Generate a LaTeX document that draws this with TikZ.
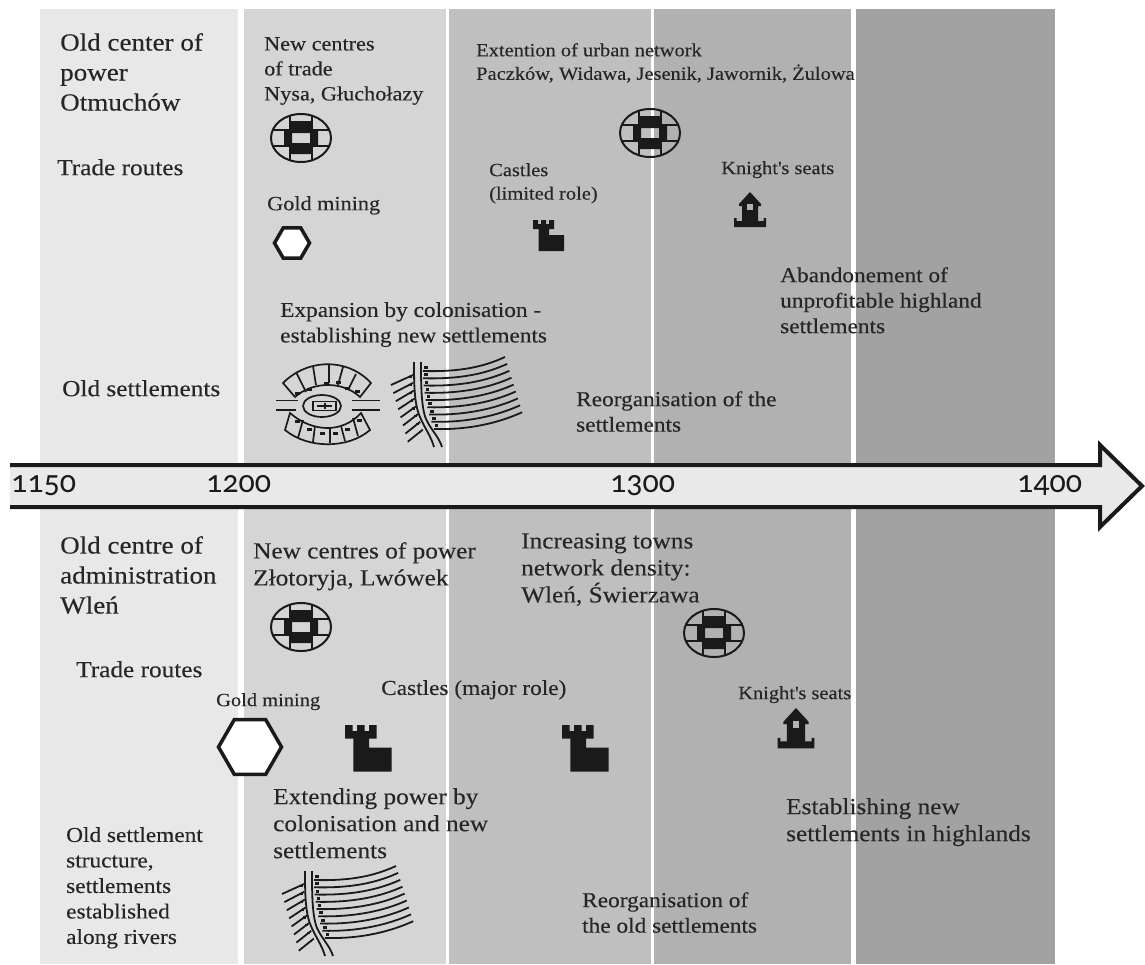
\documentclass[tikz,border=0pt]{standalone}
\usepackage{fontspec}
\setmainfont[FakeStretch=1.1,FakeBold=0.2]{Liberation Serif}
\newfontfamily\yearfont[Numbers=OldStyle]{Carlito}
\usetikzlibrary{shapes.geometric}
\definecolor{tlInk}{HTML}{1a1a1a}
\definecolor{tlText}{HTML}{262626}
\definecolor{tlBandA}{HTML}{e8e8e8}
\definecolor{tlBandB}{HTML}{d5d5d5}
\definecolor{tlBandC}{HTML}{bfbfbf}
\definecolor{tlBandD}{HTML}{b1b1b1}
\definecolor{tlBandE}{HTML}{a2a2a2}
\definecolor{tlAxis}{HTML}{e9e9e9}
\tikzset{
  lblL/.style={anchor=north west, align=left, text=tlText, inner sep=0pt, yshift=-6pt,
              font=\fontsize{24.6}{30}\selectfont},
  lblM/.style={anchor=north west, align=left, text=tlText, inner sep=0pt, yshift=-4pt,
              font=\fontsize{23}{27}\selectfont},
  lblR/.style={anchor=north west, align=left, text=tlText, inner sep=0pt, yshift=-4pt,
              font=\fontsize{21.2}{25.5}\selectfont},
  lblS/.style={anchor=north west, align=left, text=tlText, inner sep=0pt, yshift=-4pt,
              font=\fontsize{20.2}{25}\selectfont},
  lblT/.style={anchor=north west, align=left, text=tlText, inner sep=0pt, yshift=-4pt,
              font=\fontsize{18.6}{23.5}\selectfont},
  year/.style={anchor=base west, text=tlInk, inner sep=0pt, font=\yearfont\fontsize{32}{32}\selectfont},
  mine/.style={regular polygon, regular polygon sides=6,
              draw=tlInk, fill=white, line width=3.5pt, inner sep=0pt},
  % town plan crest
  pics/crest/.style={code={
    \fill[tlInk] (-11,-17) rectangle (11,-5) (-11,5) rectangle (11,16)
                 (-17,-7) rectangle (-9,7) (9,-7) rectangle (17,7);
    \draw[tlInk,line width=1.2pt] (-11,-22) -- (-11,22) (11,-22) -- (11,22)
                 (-28,-8) -- (28,-8) (-28,8) -- (28,8);
    \draw[tlInk,line width=2pt] (0,0) ellipse (30 and 24);
  }},
  % tower with low wall
  pics/castle/.style={code={
    \fill[tlInk] (0,0) -- (5,0) -- (5,4) -- (8,4) -- (8,0) -- (13,0) -- (13,4) -- (16,4)
                 -- (16,0) -- (21,0) -- (21,9) -- (16,9) -- (16,15) -- (31,15) -- (31,31)
                 -- (5.5,31) -- (5.5,9) -- (0,9) -- cycle;
  }},
  % small manor house
  pics/keep/.style={code={
    \fill[tlInk] (0,0) -- (-11,12) -- (-11,14) -- (-8,14) -- (-8,29) -- (-13.5,29) -- (-13.5,26)
                 -- (-16,26) -- (-16,35) -- (16,35) -- (16,26) -- (13.5,26) -- (13.5,29)
                 -- (8,29) -- (8,14) -- (11,14) -- (11,12) -- cycle;
    \fill[black!30] (-3,11.5) rectangle (3,17.5);
  }},
  % oval village with two rows of farmsteads
  pics/ovalvillage/.style={code={
    \begin{scope}[tlInk,line width=1.7pt]
      \draw (-45,-22) .. controls (-20,-47) and (20,-47) .. (43,-22) -- (32,-8)
            .. controls (15,-24) and (-15,-24) .. (-33,-8) -- cycle;
      \draw (-43,25) .. controls (-20,44) and (20,44) .. (42,25) -- (33,8)
            .. controls (15,28) and (-15,28) .. (-38,8) -- cycle;
      \foreach \xa/\ya/\xb/\yb in {-32/-33/-22/-13,-15/-39/-12/-20,1/-40/1/-22,15/-38/10/-20,28/-31/20/-15,
                                   -30/33/-25/15,-15/37/-13/21,2/38/2/23,17/36/13/21,30/31/25/13}
        \draw (\xa,\ya) -- (\xb,\yb);
      \draw (-52,-4.5) -- (-30,-4.5) (-52,5) -- (-32,5) (24,-4.5) -- (52,-4.5) (24,5) -- (52,5);
      \draw (-6,1) ellipse (19 and 11);
      \draw (-15,-3.5) rectangle (8,5.5) (-11,1) -- (4,1) (-3,-2) -- (-3,4);
    \end{scope}
    \foreach \xa/\ya in {-33/-13,-21/-17,-4/-23,8/-24,17/-18,27/-15,
                         -33/15,-21/23,-8/27,5/27,17/23,29/14}
      \fill[tlInk] (\xa,\ya) rectangle ++(4.5,2.8);
  }},
  % road with strip fields on both sides
  pics/stripfields/.style={code={
    \begin{scope}[tlInk,line width=1.8pt]
      \draw (0,0) .. controls (0,20) and (0,42) .. (6,55) .. controls (10,65) and (17,74) .. (20,85);
      \draw (7,0) .. controls (7,20) and (7,45) .. (12,57) .. controls (17,68) and (25,75) .. (28,85);
      \foreach \i in {0,...,8} {
        \pgfmathsetmacro\sx{9+.17*\i*\i}
        \pgfmathsetmacro\sy{9+7.25*\i}
        \pgfmathsetmacro\ex{91+2.15*\i}
        \pgfmathsetmacro\ey{-5+6.9*\i}
        \draw (\sx,\sy) .. controls (\sx+37,\sy+1) and (\ex-22,\ey+10) .. (\ex,\ey);
        \fill (\sx+1,\sy-5) rectangle ++(3.6,3);
      }
      \foreach \i in {0,...,7} {
        \pgfmathsetmacro\sx{-1+.2*\i*\i}
        \pgfmathsetmacro\sy{13+7.8*\i}
        \pgfmathsetmacro\ex{-23+2.4*\i}
        \pgfmathsetmacro\ey{23+8.1*\i}
        \draw (\sx,\sy) -- (\ex,\ey);
        \fill (\sx-4,\sy+1) rectangle ++(2.6,2.4);
      }
    \end{scope}
  }},
}
\begin{document}
\begin{tikzpicture}[x=1pt,y=-1pt]
  \useasboundingbox (0,0) rectangle (1145,964);
  % time bands
  \fill[tlBandA] (40,9) rectangle (238,964);
  \fill[tlBandB] (244,9) rectangle (446,964);
  \fill[tlBandC] (449,9) rectangle (651,964);
  \fill[tlBandD] (654,9) rectangle (851,964);
  \fill[tlBandE] (856,9) rectangle (1055,964);
  % time axis
  \draw[tlInk,fill=tlAxis,line width=4pt,miter limit=10] (10,465) -- (1100,465) -- (1100,445) -- (1142,486)
        -- (1100,527) -- (1100,507) -- (10,507);
  \node[year] (y1150) at (11,492) {1150};
  \node[year] (y1200) at (206,492) {1200};
  \node[year] (y1300) at (610,492) {1300};
  \node[year] (y1400) at (1017,492) {1400};
  % upper half
  \node[lblL] (powerA) at (60,27) {Old center of\\power\\Otmuchów};
  \node[lblM] (routesA) at (57,155) {Trade routes};
  \node[lblS] (tradeA) at (264,33) {New centres\\of trade\\Nysa, Głuchołazy};
  \node[lblT] (urbanA) at (476,39) {Extention of urban network\\Paczków, Widawa, Jesenik, Jawornik, Żulowa};
  \node[lblT] (castleA) at (489,159) {Castles\\(limited role)};
  \node[lblT] (seatsA) at (721,157) {Knight\textquotesingle s seats};
  \node[lblS] (goldA) at (267,192) {Gold mining};
  \node[lblR] (abandonA) at (780,263) {Abandonement of\\unprofitable highland\\settlements};
  \node[lblR] (colonA) at (280,298) {Expansion by colonisation -\\establishing new settlements};
  \node[lblM] (oldA) at (62,376) {Old settlements};
  \node[lblR] (reorgA) at (576,387) {Reorganisation of the\\settlements};
  \pic (crestA) at (301,138) {crest};
  \pic (crestB) at (650,133) {crest};
  \node[mine,minimum size=35pt] (mineA) at (292,243) {};
  \pic (castA) at (533,220) {castle};
  \pic (keepA) at (750,192) {keep};
  \pic (villageA) at (328,405) {ovalvillage};
  \pic (fieldsA) at (414,362) {stripfields};
  % lower half
  \node[lblL] (powerB) at (60,530) {Old centre of\\administration\\Wleń};
  \node[lblM] (newB) at (253,538) {New centres of power\\Złotoryja, Lwówek};
  \node[lblM] (townsB) at (521,529) {Increasing towns\\network density:\\Wleń, Świerzawa};
  \node[lblM] (routesB) at (76,657) {Trade routes};
  \node[lblT] (goldB) at (216,689) {Gold mining};
  \node[lblR] (castleB) at (381,676) {Castles (major role)};
  \node[lblT] (seatsB) at (738,682) {Knight\textquotesingle s seats};
  \node[lblM] (extendB) at (273,784) {Extending power by\\colonisation and new\\settlements};
  \node[lblM] (highB) at (786,794) {Establishing new\\settlements in highlands};
  \node[lblR] (oldB) at (66,823) {Old settlement\\structure,\\settlements\\established\\along rivers};
  \node[lblR] (reorgB) at (582,888) {Reorganisation of\\the old settlements};
  \pic (crestC) at (301,627) {crest};
  \pic (crestD) at (714,633) {crest};
  \node[mine,minimum size=63pt] (mineB) at (250,747) {};
  \pic[scale=1.5] (castB) at (345,725) {castle};
  \pic[scale=1.5] (castC) at (562,725) {castle};
  \pic[scale=1.15] (keepB) at (796,708) {keep};
  \pic (fieldsB) at (305,871) {stripfields};
\end{tikzpicture}
\end{document}
